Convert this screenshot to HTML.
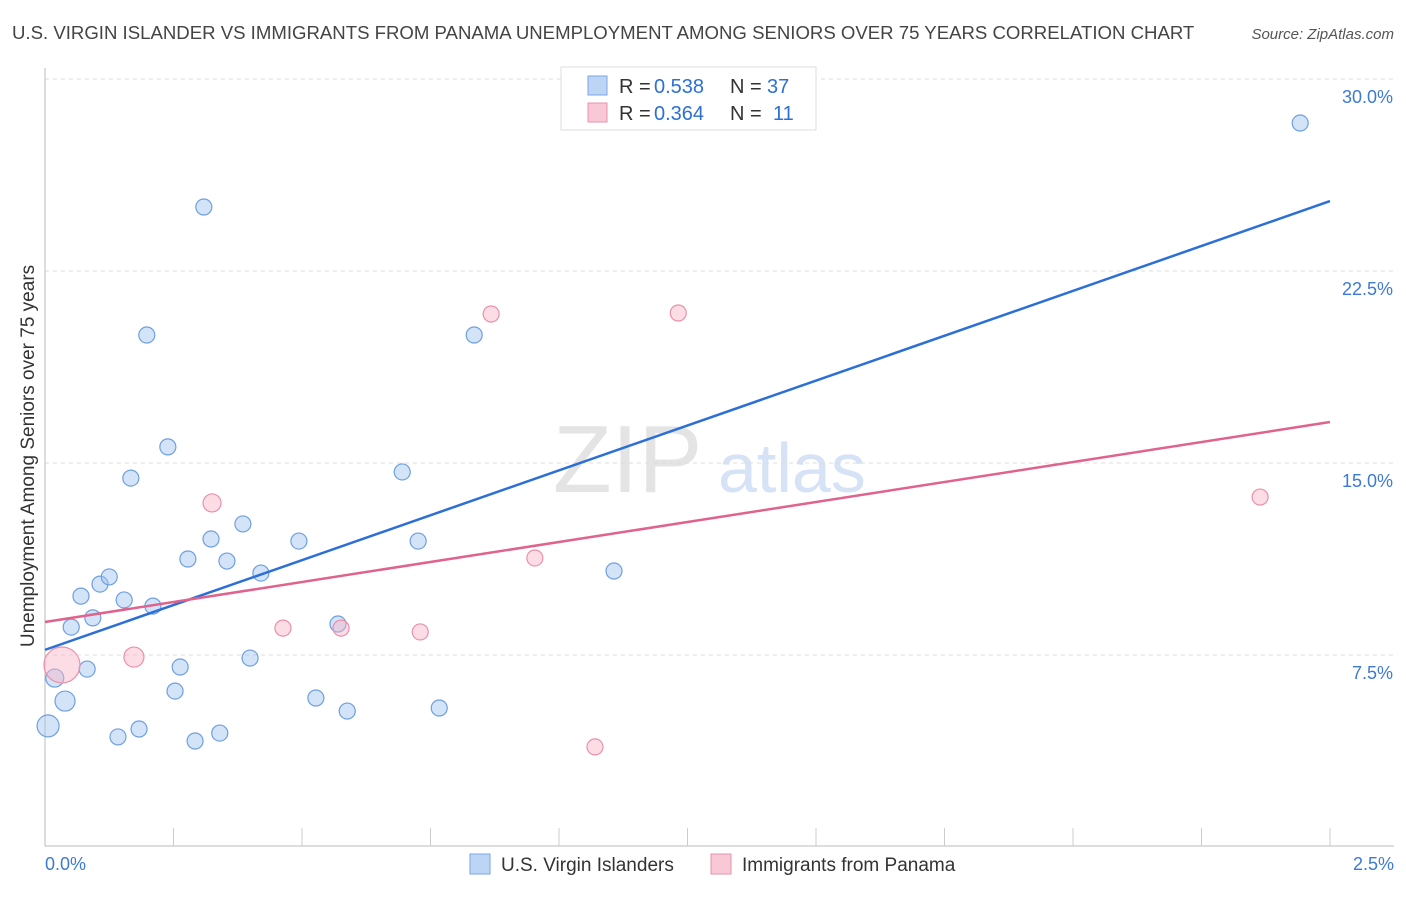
<!DOCTYPE html>
<html><head><meta charset="utf-8"><style>
body{margin:0;background:#fff;font-family:"Liberation Sans",sans-serif}
svg text{font-family:"Liberation Sans",sans-serif}
</style></head><body>
<svg id="c" width="1406" height="892">
<text x="12" y="39" font-size="18.6" fill="#444">U.S. VIRGIN ISLANDER VS IMMIGRANTS FROM PANAMA UNEMPLOYMENT AMONG SENIORS OVER 75 YEARS CORRELATION CHART</text>
<text x="1394" y="39" font-size="15" fill="#555" text-anchor="end" font-style="italic">Source: ZipAtlas.com</text>
<text x="0" y="0" transform="translate(34,456) rotate(-90)" font-size="19" fill="#333" text-anchor="middle">Unemployment Among Seniors over 75 years</text>
<text x="553" y="492" font-size="96" fill="#e4e4e4" font-family="Liberation Serif">ZIP</text>
<text x="718" y="492" font-size="70" fill="#d6e2f5">atlas</text>
<g id="grid"></g><g id="marks"></g>
<g>
<rect x="561" y="67" width="255" height="63" fill="#fff" stroke="#ddd"/>
<rect x="588" y="76" width="19" height="19" fill="#bcd5f5" stroke="#7aa6e6"/>
<rect x="588" y="103" width="19" height="19" fill="#f9c8d6" stroke="#eb90ab"/>
<text x="619" y="93" font-size="20" fill="#333">R =</text>
<text x="654" y="93" font-size="20" fill="#2c6fd6">0.538</text>
<text x="730" y="93" font-size="20" fill="#333">N =</text>
<text x="767" y="93" font-size="20" fill="#2c6fd6">37</text>
<text x="619" y="120" font-size="20" fill="#333">R =</text>
<text x="654" y="120" font-size="20" fill="#2c6fd6">0.364</text>
<text x="730" y="120" font-size="20" fill="#333">N =</text>
<text x="773" y="120" font-size="20" fill="#2c6fd6">11</text>
</g>
<g>
<rect x="470" y="854" width="20" height="20" fill="#bcd5f5" stroke="#7aa6e6"/>
<text x="501" y="871" font-size="19" fill="#333">U.S. Virgin Islanders</text>
<rect x="711" y="854" width="20" height="20" fill="#f9c8d6" stroke="#eb90ab"/>
<text x="742" y="871" font-size="19" fill="#333">Immigrants from Panama</text>
</g>
</svg>
<script>
const yTicks=[7.5,15,22.5,30];
const yTickLabels=["7.5%","15.0%","22.5%","30.0%"];
const blueX=[0.006,0.019,0.039,0.051,0.070,0.082,0.093,0.107,0.125,0.142,0.154,0.167,0.183,0.198,0.210,0.239,0.253,0.263,0.278,0.292,0.309,0.323,0.340,0.354,0.385,0.399,0.420,0.494,0.527,0.570,0.588,0.695,0.726,0.767,0.835,1.107,2.442];
const blueY=[4.73,6.60,5.70,8.59,9.80,6.95,8.95,10.27,10.55,4.30,9.65,14.41,4.61,20.0,9.41,15.63,6.09,7.03,11.25,4.14,25.0,12.03,4.45,11.17,12.62,7.38,10.70,11.95,5.82,8.71,5.31,14.65,11.95,5.43,20.0,10.78,28.28];
const blueR=[11,9,10,8,8,8,8,8,8,8,8,8,8,8,8,8,8,8,8,8,8,8,8,8,8,8,8,8,8,8,8,8,8,8,8,8,8];
const pinkX=[0.033,0.173,0.325,0.463,0.576,0.730,0.868,0.953,1.070,1.232,2.364];
const pinkY=[7.11,7.42,13.44,8.55,8.55,8.40,20.82,11.29,3.91,20.86,13.67];
const pinkR=[18,10,9,8,8,8,8,8,8,8,8];
const blueLine=[7.70,25.23];
const pinkLine=[8.79,16.6];
const xMax=2.5;
const X=v=>45+v/xMax*1285;
const Y=v=>847-v*25.6;
const NS="http://www.w3.org/2000/svg";
const grid=document.getElementById('grid'),marks=document.getElementById('marks');
function mk(tag,at,p){const e=document.createElementNS(NS,tag);for(const k in at)e.setAttribute(k,at[k]);p.appendChild(e);return e;}
yTicks.forEach((t,i)=>{
 const l=mk('line',{x1:45,x2:1394,y1:Y(t),y2:Y(t),stroke:'#ddd','stroke-dasharray':'4,4'},grid);
 
 
 const tx=mk('text',{x:1393,y:Y(t)+24,'font-size':18,fill:'#3d7ad6','text-anchor':'end'},grid);
 tx.textContent=yTickLabels[i];
 
 
});
const ax=mk('line',{x1:45,x2:1394,y1:846,y2:846,stroke:'#bbb'},grid);


const ay=mk('line',{x1:45,x2:45,y1:68,y2:846,stroke:'#bbb'},grid);


for(let i=1;i<=10;i++){const t=mk('line',{x1:X(i*0.25),x2:X(i*0.25),y1:828,y2:846,stroke:'#ccc'},grid);
 
 }
[["0.0%",45,'start'],["2.5%",1394,'end']].forEach(a=>{const t=mk('text',{x:a[1],y:870,'font-size':18,fill:'#3d7ad6','text-anchor':a[2]},grid);t.textContent=a[0];
 
 });
blueX.forEach((x,i)=>{const c=mk('circle',{cx:X(x),cy:Y(blueY[i]),r:blueR[i],fill:'rgba(160,195,240,0.45)',stroke:'#6e9fe0','stroke-width':1.2},marks);
 
 });
pinkX.forEach((x,i)=>{const c=mk('circle',{cx:X(x),cy:Y(pinkY[i]),r:pinkR[i],fill:'rgba(248,180,200,0.45)',stroke:'#ec8fab','stroke-width':1.2},marks);
 
 });
const bl=mk('line',{x1:X(0),y1:Y(blueLine[0]),x2:X(2.5),y2:Y(blueLine[1]),stroke:'#2c6fd6','stroke-width':2.5},marks);


const pl=mk('line',{x1:X(0),y1:Y(pinkLine[0]),x2:X(2.5),y2:Y(pinkLine[1]),stroke:'#e0628d','stroke-width':2.5},marks);


</script>
</body></html>
